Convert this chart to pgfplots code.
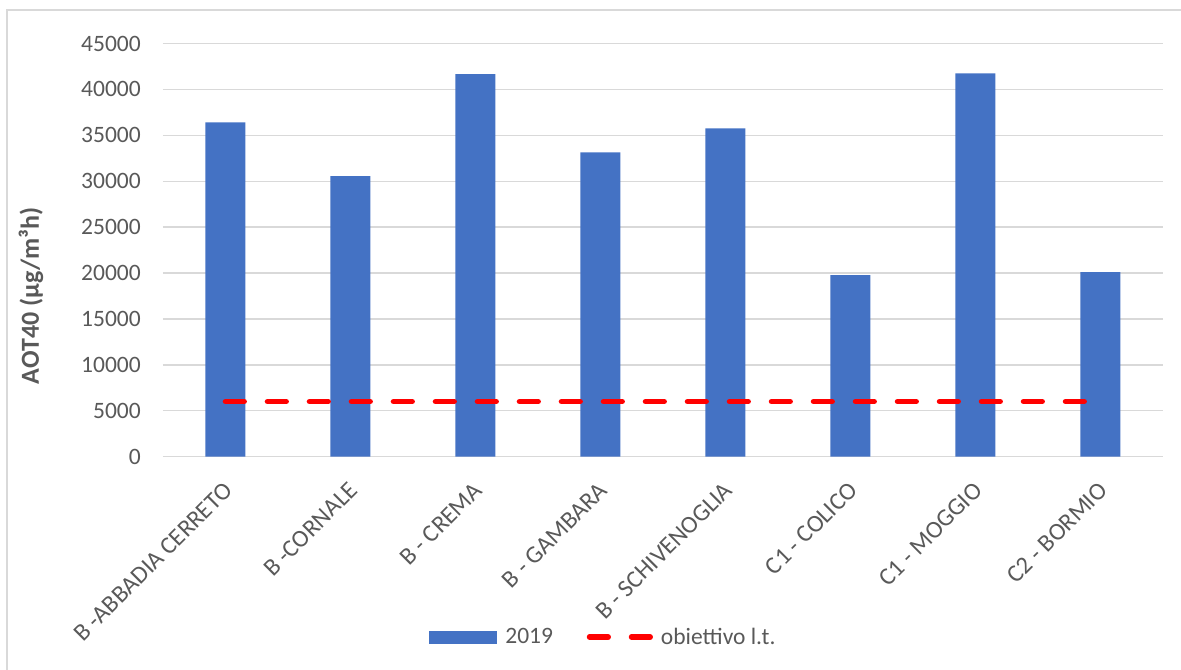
\documentclass[border=0pt]{standalone}
\usepackage{fontspec}
\setmainfont{Carlito}
\usepackage{pgfplots}
\pgfplotsset{compat=1.18}
\definecolor{barblue}{HTML}{4472C4}
\definecolor{gridgray}{HTML}{D9D9D9}
\definecolor{txtgray}{HTML}{595959}
\newcommand{\cf}{\fontsize{23.5bp}{27bp}\selectfont}
\newcommand{\xf}{\fontsize{24.5bp}{28bp}\selectfont}
\newcommand{\lf}{\fontsize{26bp}{30bp}\selectfont}
\begin{document}
\begin{tikzpicture}
\path[use as bounding box] (-163bp,-213.3bp) rectangle (1018bp,456.7bp);
\draw[gridgray, line width=1.5bp] (-156bp,-213.3bp) -- (-156bp,446.7bp) -- (1018bp,446.7bp);
\begin{axis}[
  at={(0,0)}, anchor=south west,
  width=1000bp, height=413.2bp, scale only axis,
  xmin=-0.5, xmax=7.5, ymin=0, ymax=45000,
  axis line style={draw=none},
  major tick length=0pt,
  ymajorgrids, grid style={gridgray, line width=1.3bp},
  ytick={0,5000,...,45000},
  scaled y ticks=false,
  yticklabel style={/pgf/number format/assume math mode=true, /pgf/number format/1000 sep={}, font=\cf, text=txtgray, inner sep=0pt, anchor=east, xshift=-22bp},
  xtick={0,...,7},
  xticklabels={B -ABBADIA CERRETO, B -CORNALE, B - CREMA, B - GAMBARA, B - SCHIVENOGLIA, C1 - COLICO, C1 - MOGGIO, C2 - BORMIO},
  xticklabel shift=24bp,
  xticklabel style={font=\xf, text=txtgray, inner sep=0pt, xshift=-3bp, rotate=45, anchor=north east},
  ylabel={\textbf{AOT40 (µg/m³h)}},
  every axis y label/.style={at={(-0.132,0.389)}, rotate=90, anchor=center, font=\lf, text=txtgray},
  legend columns=2,
  legend style={at={(0.4395,-0.4364)}, anchor=center, draw=none, fill=none, font=\cf, text=txtgray,
    nodes={inner sep=0pt},
    /tikz/every odd column/.append style={column sep=8bp},
    /tikz/every even column/.append style={column sep=33.7bp}},
]
\addplot[ybar, bar width=40bp, fill=barblue, draw=none,
  legend image code/.code={\fill[barblue] (0bp,-6.5bp) rectangle (68bp,6.5bp);}]
  coordinates {(0,36400) (1,30560) (2,41670) (3,33140) (4,35750) (5,19780) (6,41740) (7,20110)};
\addlegendentry{2019}
\addplot[red, line width=5.5bp, line cap=round, dash pattern=on 18.7bp off 23.3bp, sharp plot,
  legend image code/.code={\draw[red, line width=5.5bp, line cap=round, dash pattern=on 18.7bp off 23.3bp] (0bp,0bp) -- (60.7bp,0bp);}]
  coordinates {(0,6000) (1,6000) (2,6000) (3,6000) (4,6000) (5,6000) (6,6000) (7,6000)};
\addlegendentry{obiettivo l.t.}
\end{axis}
\end{tikzpicture}
\end{document}
